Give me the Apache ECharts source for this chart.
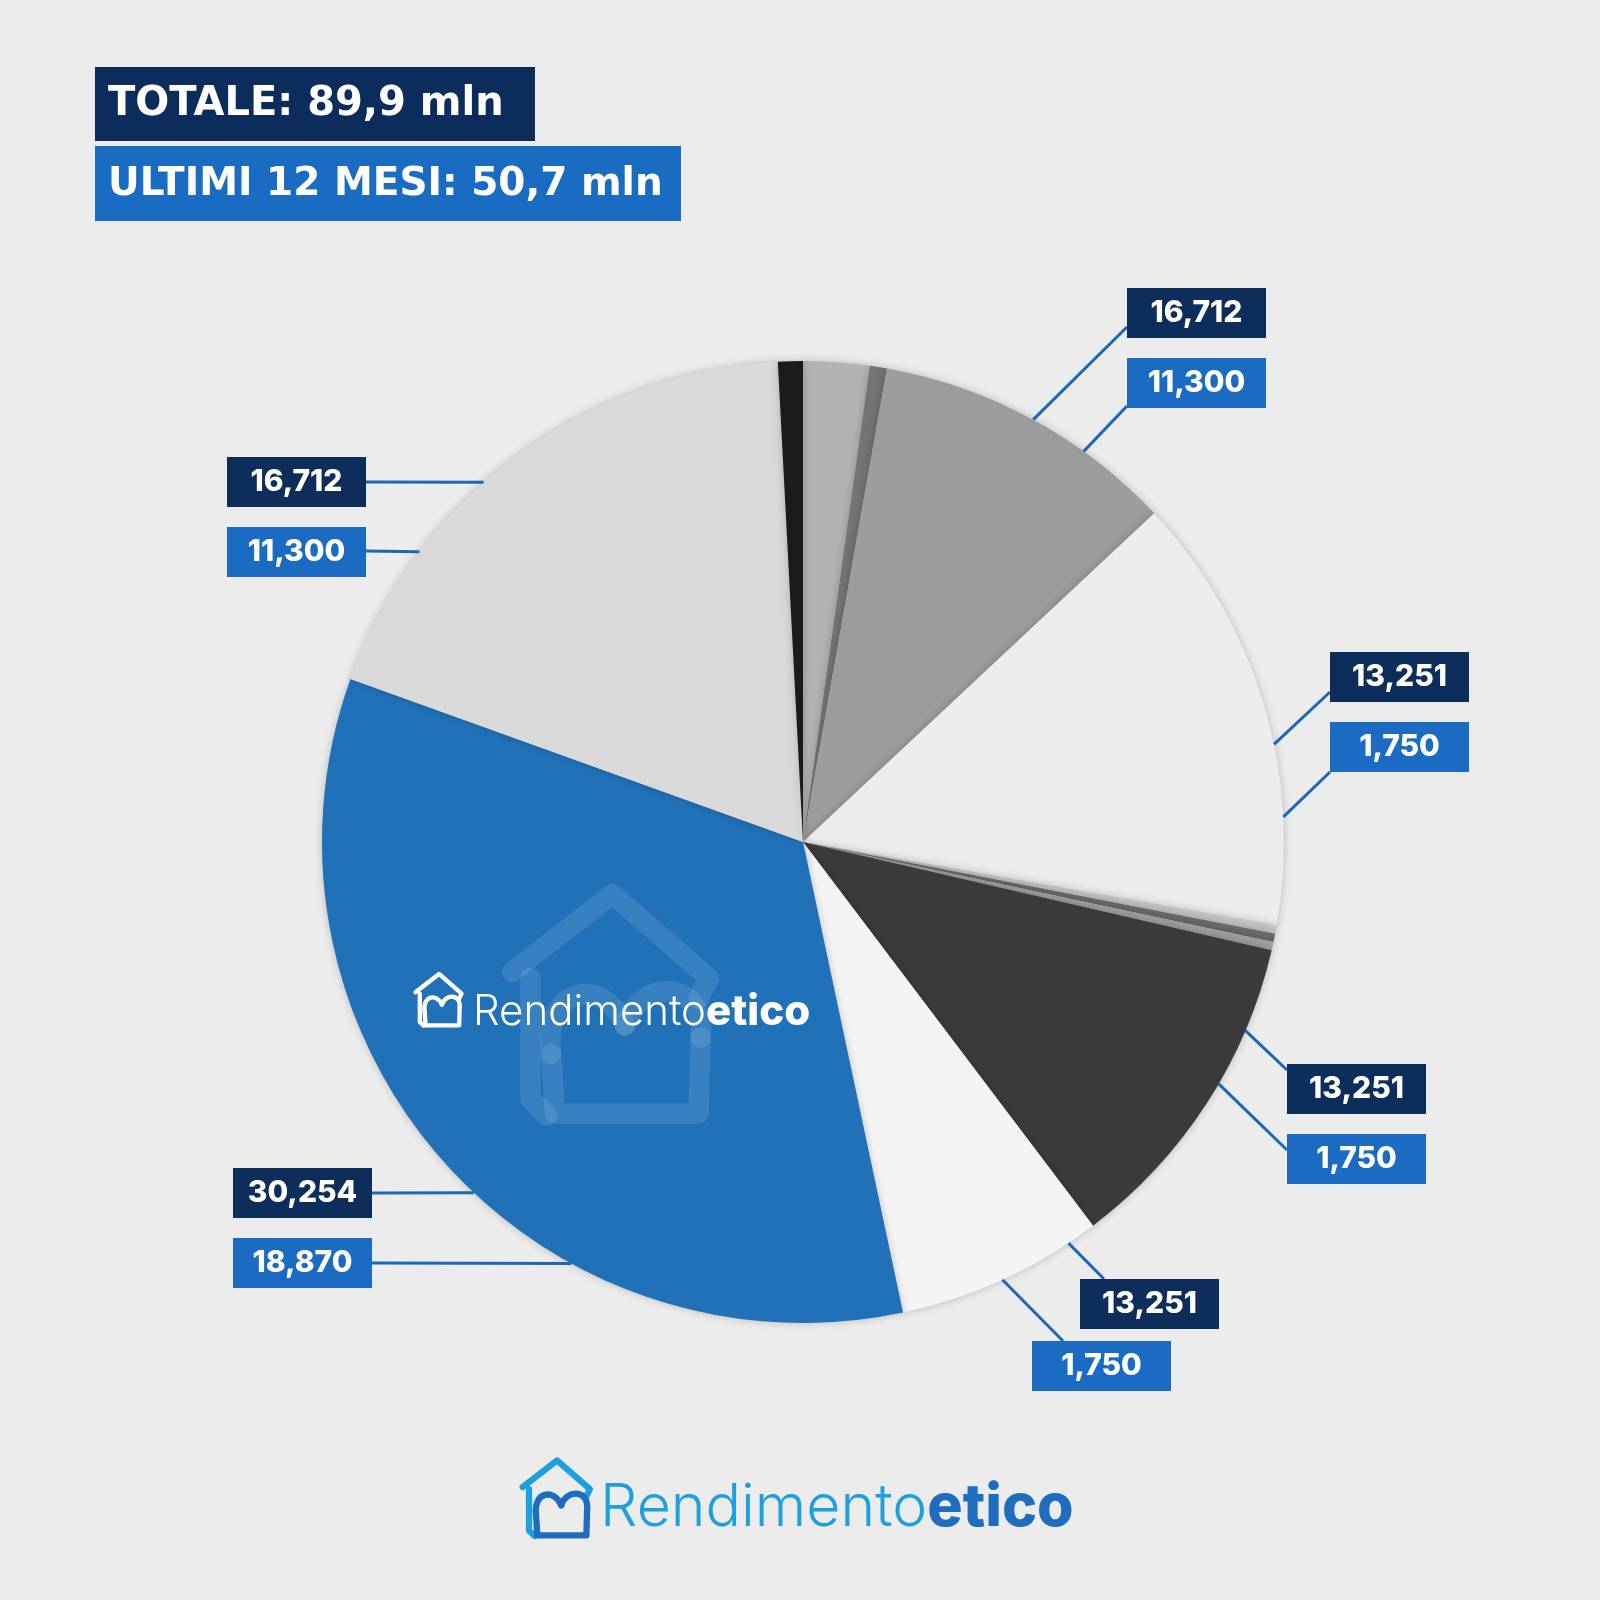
<!DOCTYPE html>
<html>
<head>
<meta charset="utf-8">
<title>Rendimentoetico</title>
<script src="https://cdn.jsdelivr.net/npm/echarts@6/dist/echarts.min.js"></script>
<style>
  html, body { margin: 0; padding: 0; background: #ececec; }
  #chart { width: 1600px; height: 1600px; }
</style>
</head>
<body>
<div id="chart"></div>
<script>
const sliceNames = ['Fetta 1', 'Fetta 2', 'Fetta 3', 'Fetta 4', 'Fetta 5', 'Fetta 6',
  'Fetta 7', 'Fetta 8', 'Fetta 9', 'Fetta 10', 'Fetta 11', 'Fetta 12'];
const sliceShares = [8.0, 2.05, 36.85, 53.1, 1.0, 1.0, 1.0, 39.9, 25.1, 121.8, 67.2, 3.0];

// etichette: fetta a cui puntano, totale e ultimi 12 mesi
const labelledSlices = [2, 10, 3, 7, 8, 9];
const totalLabels = ['16,712', '16,712', '13,251', '13,251', '13,251', '30,254'];
const lastYearLabels = ['11,300', '11,300', '1,750', '1,750', '1,750', '18,870'];

const sliceColors = ['#b3b3b3', '#747474', '#9c9c9c', '#ececec', '#c4c4c4', '#6a6a6a',
  '#9e9e9e', '#3b3b3b', '#f4f4f4', '#2171b9', '#d9d9d9', '#1b1b1b'];

const PIE = { cx: 803, cy: 842, r: 481 };
const BOX_W = 139;
const BOX_H = 50;
// posizione dei riquadri: [x, y, aggancio dx, aggancio dy, angolo sul bordo]
const navyBoxes = [
  [1127, 288, 0, 39, 28.6],
  [227, 457, 139, 25, 318.4],
  [1330, 652, 0, 40, 78.3],
  [1287, 1064, 0, 6, 113.1],
  [1080, 1279, 24, 0, 146.5],
  [233, 1168, 139, 25, 223.2]
];
const blueBoxes = [
  [1127, 358, 0, 48, 35.7],
  [227, 527, 139, 24, 307.1],
  [1330, 722, 0, 50, 87.0],
  [1287, 1134, 0, 16, 120.2],
  [1032, 1341, 31, 0, 155.5],
  [233, 1238, 139, 25, 208.8]
];

function labelSeries(texts, bg, boxes) {
  return {
    type: 'pie',
    center: [PIE.cx, PIE.cy],
    radius: PIE.r,
    startAngle: 90,
    clockwise: true,
    silent: true,
    z: 4,
    avoidLabelOverlap: false,
    itemStyle: { color: 'rgba(0,0,0,0)', borderWidth: 0 },
    emphasis: { disabled: true },
    label: {
      show: true,
      position: 'outside',
      color: '#ffffff',
      fontFamily: 'Inter',
      fontWeight: 800,
      fontSize: 30,
      backgroundColor: bg,
      width: BOX_W,
      height: BOX_H,
      lineHeight: BOX_H,
      align: 'center'
    },
    labelLine: { show: true, length: 10, length2: 10, lineStyle: { color: '#1c68b8', width: 3 } },
    labelLayout: function (p) {
      const k = labelledSlices.indexOf(p.dataIndex);
      if (k < 0) return {};
      const b = boxes[k];
      const a = b[4] * Math.PI / 180;
      return {
        x: b[0] + BOX_W / 2,
        y: b[1],
        align: 'center',
        verticalAlign: 'top',
        labelLinePoints: [
          [PIE.cx + PIE.r * Math.sin(a), PIE.cy - PIE.r * Math.cos(a)],
          [b[0] + b[2], b[1] + b[3]]
        ]
      };
    },
    data: sliceShares.map(function (v, i) {
      const k = labelledSlices.indexOf(i);
      if (k < 0) {
        return { value: v, name: sliceNames[i], label: { show: false }, labelLine: { show: false } };
      }
      return { value: v, name: sliceNames[i], label: { formatter: texts[k] } };
    })
  };
}

// icona della casa con cuore
function houseIcon(x, y, size, outer, inner, lw, z) {
  const s = size / 100;
  const base = { lineWidth: lw, lineCap: 'round', lineJoin: 'round', fill: 'none' };
  const o = Object.assign({ stroke: outer }, base);
  const n = Object.assign({ stroke: inner }, base);
  return {
    type: 'group',
    x: x,
    y: y,
    scaleX: s,
    scaleY: s,
    children: [
      { type: 'polyline', z: z, shape: { points: [[1, 40], [50, 2], [97, 43], [92, 53]] }, style: o },
      { type: 'polyline', z: z, shape: { points: [[10, 43], [10, 102], [18, 110]] }, style: o },
      { type: 'bezierCurve', z: z, shape: { x1: 56, y1: 66, cpx1: 46, cpy1: 42, cpx2: 16, cpy2: 46, x2: 20, y2: 80 }, style: n },
      { type: 'polyline', z: z, shape: { points: [[20, 80], [22, 109], [92, 109], [93, 72]] }, style: n },
      { type: 'bezierCurve', z: z, shape: { x1: 93, y1: 72, cpx1: 96, cpy1: 44, cpx2: 64, cpy2: 42, x2: 56, y2: 66 }, style: n }
    ]
  };
}

function logoText(x, y, size, c1, c2, z) {
  return {
    type: 'text',
    z: z,
    x: x,
    y: y,
    style: {
      text: '{a|Rendimento}{b|etico}',
      rich: {
        a: { fontFamily: 'Inter', fontWeight: 300, fontSize: size, fill: c1 },
        b: { fontFamily: 'Inter', fontWeight: 800, fontSize: size, fill: c2 }
      },
      verticalAlign: 'middle',
      textVerticalAlign: 'middle'
    }
  };
}

const chart = echarts.init(document.getElementById('chart'));

const option = {
  backgroundColor: '#ececec',
  animation: false,
  series: [
    {
      type: 'pie',
      center: [PIE.cx, PIE.cy],
      radius: PIE.r,
      startAngle: 90,
      clockwise: true,
      silent: true,
      z: 2,
      label: { show: false },
      labelLine: { show: false },
      itemStyle: { borderWidth: 0, shadowBlur: 8, shadowColor: 'rgba(0,0,0,0.22)' },
      data: sliceShares.map(function (v, i) {
        return { value: v, name: sliceNames[i], itemStyle: { color: sliceColors[i] } };
      })
    },
    labelSeries(totalLabels, '#0d2d5b', navyBoxes),
    labelSeries(lastYearLabels, '#1a6bc1', blueBoxes)
  ],
  graphic: [
    { type: 'rect', shape: { x: 95, y: 67, width: 440, height: 74 }, style: { fill: '#0c2d5b' } },
    {
      type: 'text', x: 108, y: 105,
      style: {
        text: 'TOTALE: 89,9 mln', fill: '#ffffff',
        fontFamily: 'DejaVu Sans', fontWeight: 'bold', fontSize: 40,
        verticalAlign: 'middle', textVerticalAlign: 'middle'
      }
    },
    { type: 'rect', shape: { x: 95, y: 146, width: 586, height: 75 }, style: { fill: '#1a6bc2' } },
    {
      type: 'text', x: 108, y: 185,
      style: {
        text: 'ULTIMI 12 MESI: 50,7 mln', fill: '#ffffff',
        fontFamily: 'DejaVu Sans', fontWeight: 'bold', fontSize: 39,
        verticalAlign: 'middle', textVerticalAlign: 'middle'
      }
    },
    // filigrana nella fetta blu
    houseIcon(510, 890, 205, 'rgba(255,255,255,0.11)', 'rgba(255,255,255,0.11)', 10, 10),
    houseIcon(415, 973, 48, '#ffffff', '#ffffff', 9, 11),
    logoText(473, 1012, 42, '#ffffff', '#ffffff', 11),
    // logo in basso
    houseIcon(522, 1459, 70, '#1d9fe0', '#1f6dbf', 9, 5),
    logoText(600, 1508, 59, '#1d9fe0', '#1f6dbf', 5)
  ]
};

chart.setOption(option, true);
</script>
</body>
</html>
